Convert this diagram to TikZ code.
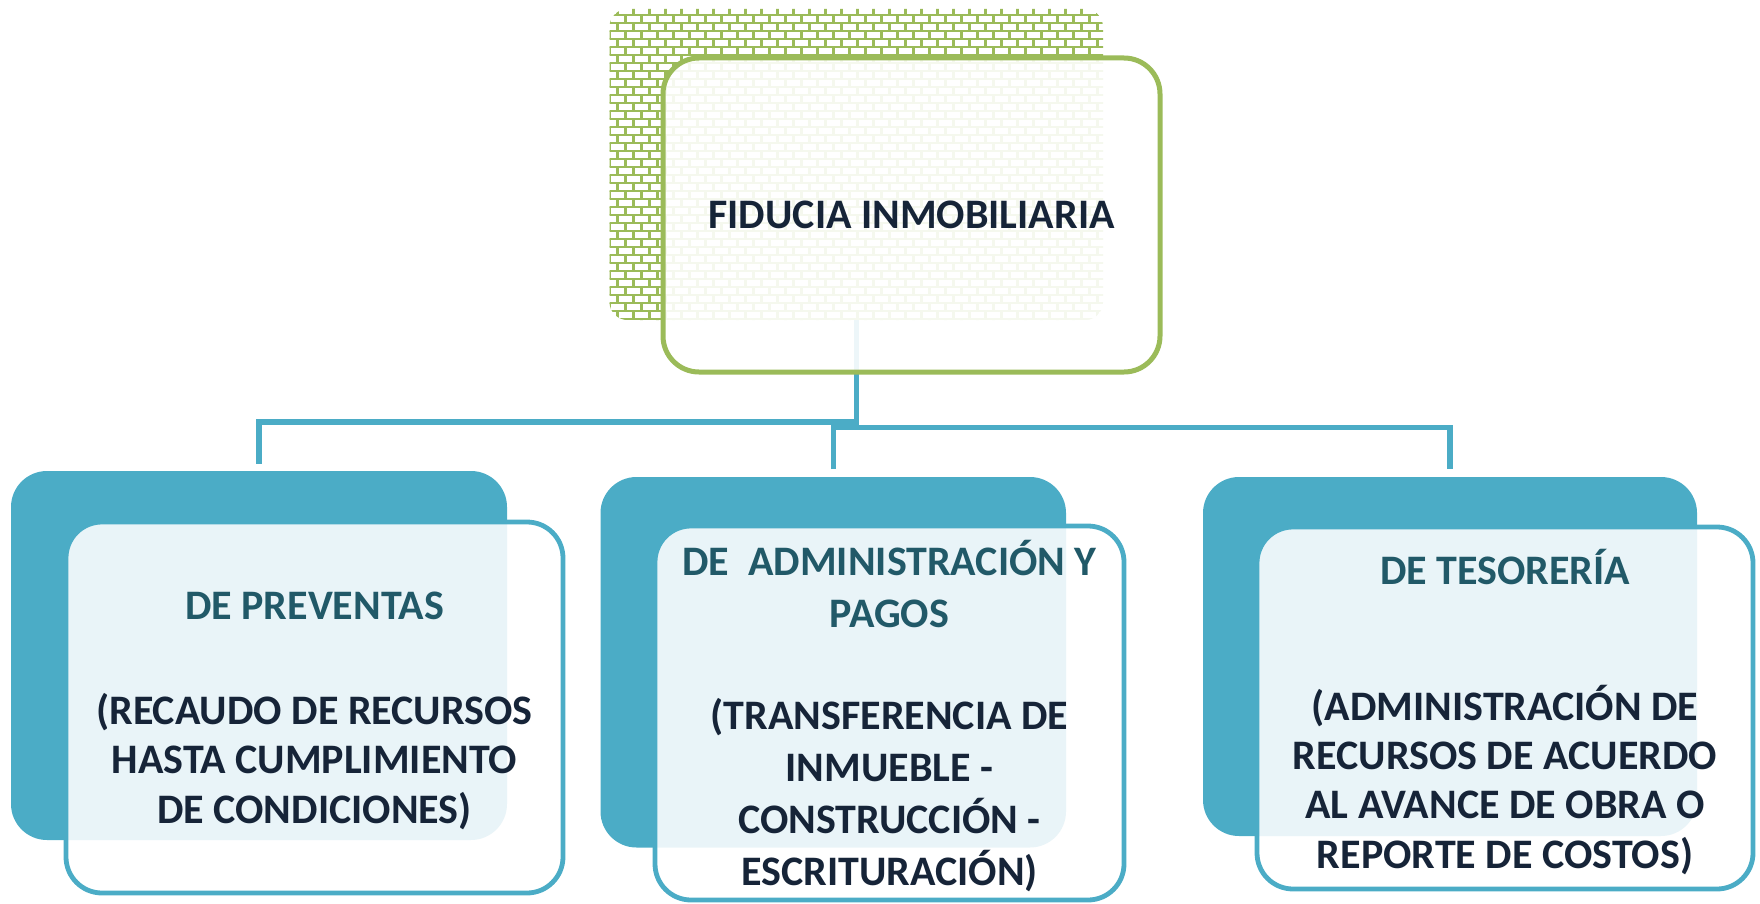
\documentclass[tikz,border=0pt]{standalone}
\usepackage{fontspec}
\setmainfont{Carlito}
\usetikzlibrary{calc}
\definecolor{tealbox}{RGB}{75,172,198}
\definecolor{greenbox}{RGB}{155,187,89}
\definecolor{headtxt}{RGB}{33,89,104}
\definecolor{bodytxt}{RGB}{22,36,56}
\tikzset{
  backbox/.style={fill=tealbox, rounded corners=18pt, inner sep=0pt, outer sep=0pt},
  frontbox/.style={draw=tealbox, line width=2.4pt, fill=white, fill opacity=0.88, draw opacity=1, text opacity=1, rounded corners=18pt, inner sep=0pt, outer sep=0pt},
  topfront/.style={draw=greenbox, line width=2.5pt, fill=white, fill opacity=0.9, draw opacity=1, text opacity=1, rounded corners=18pt, inner sep=0pt, outer sep=0pt},
  brickbox/.style={fill=white, rounded corners=9pt, inner sep=0pt, outer sep=0pt},
  conn/.style={draw=tealbox, line width=2.6pt},
  brick/.style={draw=greenbox, line width=1.1pt},
  txt/.style={font=\bfseries\fontsize{21pt}{24.7pt}\selectfont, align=center, text=bodytxt, inner sep=0pt},
}
\begin{document}
\begin{tikzpicture}[x=0.5pt, y=-0.5pt]
\useasboundingbox (0,0) rectangle (1760,904);
% top brick box
\node[brickbox, minimum width=246.75pt, minimum height=155.5pt] (tb) at (856.25,164.5) {};
\begin{scope}
  \clip[rounded corners=9pt] (tb.south west) rectangle (tb.north east);
  \foreach \r in {0,...,39} {
    \pgfmathsetmacro\yy{7+8*\r}
    \pgfmathsetmacro\off{mod(\r,2)*8}
    \draw[brick] (600,\yy) -- (1110,\yy);
    \draw[brick] \foreach \c in {0,...,31} {({601.5+\off+16*\c},\yy) -- ++(0,8)};
  }
\end{scope}
% child back boxes
\node[backbox, minimum width=248pt, minimum height=184.5pt] (b1) at (259,655.5) {};
\node[backbox, minimum width=232.75pt, minimum height=185.25pt] (b2) at (833.25,662.25) {};
\node[backbox, minimum width=247pt, minimum height=179.5pt] (b3) at (1450,656.5) {};
% connectors
\coordinate (bus) at (0,427.5);
\draw[conn] (tb.south) -- ++(0,102) -| ($(b1.north)+(0,-7.5)$);
\draw[conn] ($(b2.north)+(0,-8)$) -- (b2.north |- bus) -| ($(b3.north)+(0,-8)$);
% top front box
\node[topfront, minimum width=248.5pt, minimum height=157pt] (tf) at (911.5,215) {};
\node[txt] (t0) at (911.5,215) {FIDUCIA INMOBILIARIA};
% child front boxes
\node[frontbox, minimum width=248.5pt, minimum height=185.5pt] (f1) at (314.5,707.5) {};
\node[frontbox, minimum width=234.5pt, minimum height=187pt] (f2) at (889.5,713) {};
\node[frontbox, minimum width=248pt, minimum height=181pt] (f3) at (1505,708) {};
% texts
\node[txt] (t1) at (314.5,710.5) {\textcolor{headtxt}{DE PREVENTAS}\\[28pt](RECAUDO DE RECURSOS\\HASTA CUMPLIMIENTO\\DE CONDICIONES)};
\node[txt, font=\bfseries\fontsize{21pt}{26pt}\selectfont] (t2) at (889.5,716) {\textcolor{headtxt}{DE~~ADMINISTRACIÓN Y}\\\textcolor{headtxt}{PAGOS}\\[25pt](TRANSFERENCIA DE\\INMUEBLE -\\CONSTRUCCIÓN -\\ESCRITURACIÓN)};
\node[txt] (t3) at (1505,712) {\textcolor{headtxt}{DE TESORERÍA}\\[43pt](ADMINISTRACIÓN DE\\RECURSOS DE ACUERDO\\AL AVANCE DE OBRA O\\REPORTE DE COSTOS)};
\end{tikzpicture}
\end{document}
